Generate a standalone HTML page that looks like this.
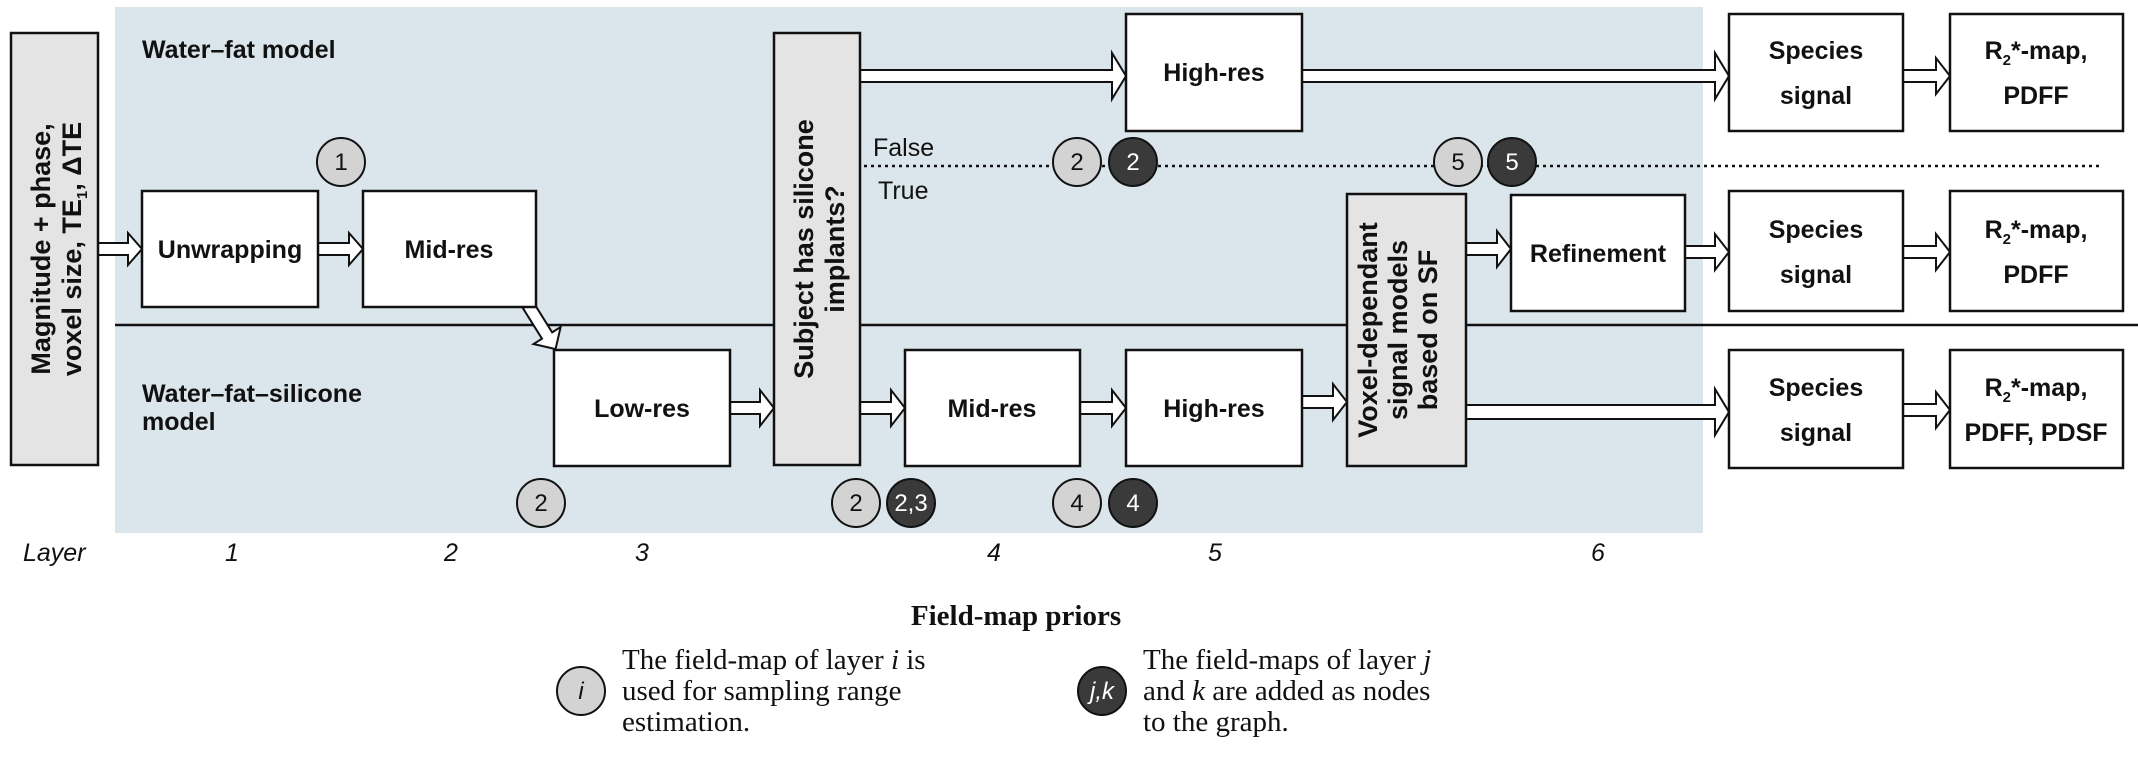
<!DOCTYPE html>
<html><head><meta charset="utf-8"><style>
html,body{margin:0;padding:0;background:#fff;}
svg{display:block;}
.b{font-family:"Liberation Sans Narrow","Liberation Sans",sans-serif;font-weight:bold;font-size:25px;fill:#111;}
.n{font-family:"Liberation Sans Narrow","Liberation Sans",sans-serif;font-size:25px;fill:#111;}
.v{font-family:"Liberation Sans",sans-serif;font-weight:bold;font-size:27px;fill:#111;}
.l{font-family:"Liberation Sans Narrow","Liberation Sans",sans-serif;font-style:italic;font-size:25px;fill:#111;}
.c{font-family:"Liberation Sans Narrow","Liberation Sans",sans-serif;font-size:24px;}
.s{font-family:"Liberation Serif",serif;font-size:29px;fill:#111;}
rect.w{fill:#fff;stroke:#111;stroke-width:2.5;}
rect.g{fill:#e4e4e4;stroke:#111;stroke-width:2.5;}
polygon.a{fill:#fff;stroke:#111;stroke-width:2;}
</style></head><body>
<svg width="2138" height="768" viewBox="0 0 2138 768">
<rect x="115" y="7" width="1588" height="526" fill="#dae6ec"/>
<line x1="115" y1="325" x2="2138" y2="325" stroke="#111" stroke-width="2.5"/>
<line x1="864" y1="166" x2="2100" y2="166" stroke="#111" stroke-width="2.5" stroke-dasharray="3,4"/>

<g>
<polygon class="a" points="98,243 128,243 128,233 142,249 128,265 128,255 98,255"/>
<polygon class="a" points="318,243 349,243 349,233 363,249 349,265 349,255 318,255"/>
<polygon class="a" points="730,402 760,402 760,390 774,408 760,426 760,414 730,414"/>
<polygon class="a" points="860,402 891,402 891,390 905,408 891,426 891,414 860,414"/>
<polygon class="a" points="1080,402 1112,402 1112,390 1126,408 1112,426 1112,414 1080,414"/>
<polygon class="a" points="1302,396 1333,396 1333,384 1347,402 1333,420 1333,408 1302,408"/>
<polygon class="a" points="1466,405 1715,405 1715,389 1729,412 1715,435 1715,419 1466,419"/>
<polygon class="a" points="860,70 1112,70 1112,53 1126,76 1112,99 1112,82 860,82"/>
<polygon class="a" points="1302,70 1715,70 1715,53 1729,76 1715,99 1715,82 1302,82"/>
<polygon class="a" points="1466,243 1497,243 1497,231 1511,249 1497,267 1497,255 1466,255"/>
<polygon class="a" points="1685,246 1715,246 1715,234 1729,252 1715,270 1715,258 1685,258"/>
<polygon class="a" points="1903,70 1936,70 1936,58 1950,76 1936,94 1936,82 1903,82"/>
<polygon class="a" points="1903,246 1936,246 1936,234 1950,252 1936,270 1936,258 1903,258"/>
<polygon class="a" points="1903,404 1936,404 1936,392 1950,410 1936,428 1936,416 1903,416"/>
<g transform="translate(528,305) rotate(58)">
<polygon class="a" points="0,-6 36,-6 36,-16 52,0 36,16 36,6 0,6"/>
</g>
</g>

<rect class="g" x="11" y="33" width="87" height="432"/>
<text class="v" transform="translate(50,249) rotate(-90)" text-anchor="middle">Magnitude + phase,</text>
<text class="v" transform="translate(81,249) rotate(-90)" text-anchor="middle">voxel size, TE<tspan font-size="15" dy="6">1</tspan><tspan dy="-6">, ΔTE</tspan></text>

<rect class="w" x="142" y="191" width="176" height="116"/>
<text class="b" x="230" y="258" text-anchor="middle">Unwrapping</text>
<rect class="w" x="363" y="191" width="173" height="116"/>
<text class="b" x="449" y="258" text-anchor="middle">Mid-res</text>
<rect class="w" x="554" y="350" width="176" height="116"/>
<text class="b" x="642" y="417" text-anchor="middle">Low-res</text>

<rect class="g" x="774" y="33" width="86" height="432"/>
<text class="v" transform="translate(813,249) rotate(-90)" text-anchor="middle">Subject has silicone</text>
<text class="v" transform="translate(844,249) rotate(-90)" text-anchor="middle">implants?</text>

<rect class="w" x="905" y="350" width="175" height="116"/>
<text class="b" x="992" y="417" text-anchor="middle">Mid-res</text>
<rect class="w" x="1126" y="14" width="176" height="117"/>
<text class="b" x="1214" y="81" text-anchor="middle">High-res</text>
<rect class="w" x="1126" y="350" width="176" height="116"/>
<text class="b" x="1214" y="417" text-anchor="middle">High-res</text>

<rect class="g" x="1347" y="194" width="119" height="272"/>
<text class="v" transform="translate(1377,330) rotate(-90)" text-anchor="middle">Voxel-dependant</text>
<text class="v" transform="translate(1407,330) rotate(-90)" text-anchor="middle">signal models</text>
<text class="v" transform="translate(1437,330) rotate(-90)" text-anchor="middle">based on SF</text>

<rect class="w" x="1511" y="195" width="174" height="116"/>
<text class="b" x="1598" y="262" text-anchor="middle">Refinement</text>

<rect class="w" x="1729" y="14" width="174" height="117"/>
<text class="b" x="1816" y="59" text-anchor="middle">Species</text>
<text class="b" x="1816" y="104" text-anchor="middle">signal</text>
<rect class="w" x="1729" y="191" width="174" height="120"/>
<text class="b" x="1816" y="238" text-anchor="middle">Species</text>
<text class="b" x="1816" y="283" text-anchor="middle">signal</text>
<rect class="w" x="1729" y="350" width="174" height="118"/>
<text class="b" x="1816" y="396" text-anchor="middle">Species</text>
<text class="b" x="1816" y="441" text-anchor="middle">signal</text>

<rect class="w" x="1950" y="14" width="173" height="117"/>
<text class="b" x="2036" y="59" text-anchor="middle">R<tspan font-size="15" dy="6">2</tspan><tspan dy="-6">*-map,</tspan></text>
<text class="b" x="2036" y="104" text-anchor="middle">PDFF</text>
<rect class="w" x="1950" y="191" width="173" height="120"/>
<text class="b" x="2036" y="238" text-anchor="middle">R<tspan font-size="15" dy="6">2</tspan><tspan dy="-6">*-map,</tspan></text>
<text class="b" x="2036" y="283" text-anchor="middle">PDFF</text>
<rect class="w" x="1950" y="350" width="173" height="118"/>
<text class="b" x="2036" y="396" text-anchor="middle">R<tspan font-size="15" dy="6">2</tspan><tspan dy="-6">*-map,</tspan></text>
<text class="b" x="2036" y="441" text-anchor="middle">PDFF, PDSF</text>

<text class="b" x="142" y="58">Water–fat model</text>
<text class="b" x="142" y="402">Water–fat–silicone</text>
<text class="b" x="142" y="430">model</text>
<text class="n" x="873" y="156">False</text>
<text class="n" x="878" y="199">True</text>

<g stroke="#111" stroke-width="2">
<circle cx="341" cy="162" r="24" fill="#d3d3d3"/>
<circle cx="541" cy="503" r="24" fill="#d3d3d3"/>
<circle cx="856" cy="503" r="24" fill="#d3d3d3"/>
<circle cx="911" cy="503" r="24" fill="#3a3a3a"/>
<circle cx="1077" cy="503" r="24" fill="#d3d3d3"/>
<circle cx="1133" cy="503" r="24" fill="#3a3a3a"/>
<circle cx="1077" cy="162" r="24" fill="#d3d3d3"/>
<circle cx="1133" cy="162" r="24" fill="#3a3a3a"/>
<circle cx="1458" cy="162" r="24" fill="#d3d3d3"/>
<circle cx="1512" cy="162" r="24" fill="#3a3a3a"/>
<circle cx="581" cy="691" r="24" fill="#d3d3d3"/>
<circle cx="1102" cy="691" r="24" fill="#3a3a3a"/>
</g>
<g class="c" text-anchor="middle">
<text x="341" y="170" fill="#111">1</text>
<text x="541" y="511" fill="#111">2</text>
<text x="856" y="511" fill="#111">2</text>
<text x="911" y="511" fill="#fff">2,3</text>
<text x="1077" y="511" fill="#111">4</text>
<text x="1133" y="511" fill="#fff">4</text>
<text x="1077" y="170" fill="#111">2</text>
<text x="1133" y="170" fill="#fff">2</text>
<text x="1458" y="170" fill="#111">5</text>
<text x="1512" y="170" fill="#fff">5</text>
<text x="581" y="699" fill="#111" font-style="italic">i</text>
<text x="1102" y="699" fill="#fff" font-style="italic">j,k</text>
</g>

<text class="l" x="23" y="561">Layer</text>
<g class="l" text-anchor="middle">
<text x="232" y="561">1</text><text x="451" y="561">2</text><text x="642" y="561">3</text>
<text x="994" y="561">4</text><text x="1215" y="561">5</text><text x="1598" y="561">6</text>
</g>

<text class="s" x="1016" y="625" text-anchor="middle" font-weight="bold">Field-map priors</text>
<text class="s" x="622" y="669">The field-map of layer <tspan font-style="italic">i</tspan> is</text>
<text class="s" x="622" y="700">used for sampling range</text>
<text class="s" x="622" y="731">estimation.</text>
<text class="s" x="1143" y="669">The field-maps of layer <tspan font-style="italic">j</tspan></text>
<text class="s" x="1143" y="700">and <tspan font-style="italic">k</tspan> are added as nodes</text>
<text class="s" x="1143" y="731">to the graph.</text>
</svg>
</body></html>
